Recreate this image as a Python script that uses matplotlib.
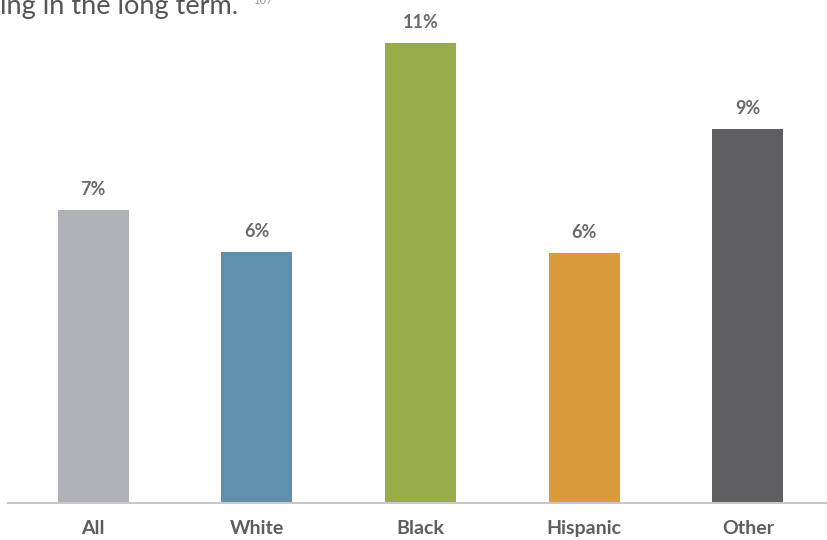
import matplotlib
matplotlib.use("Agg")
import matplotlib.pyplot as plt

categories = ["All", "White", "Black", "Hispanic", "Other"]
values = [7.0, 6.0, 11.0, 5.97, 8.95]
labels = ["7%", "6%", "11%", "6%", "9%"]
colors = ["#B1B2B6", "#5E90AE", "#98AC4C", "#DA9C3A", "#5F5F61"]

fig = plt.figure(figsize=(8.28, 5.4), dpi=100)
ax = fig.add_axes([8/828, 37/540, 820/828, 503/540])
x = list(range(len(categories)))
ax.bar(x, values, width=0.434, color=colors)
ax.set_xlim(-0.52, 4.49)
ax.set_ylim(0, 12.03)
for xi, v, lab in zip(x, values, labels):
    ax.annotate(lab, (xi, v), xytext=(0, 11), textcoords="offset points",
                ha="center", va="baseline", fontsize=13, fontweight="bold",
                color="#6A6A6A", family="Lato")
for s in ["top", "right", "left"]:
    ax.spines[s].set_visible(False)
ax.spines["bottom"].set_color("#C8C8C8")
ax.spines["bottom"].set_linewidth(1.5)
ax.set_yticks([])
ax.set_xticks(x)
ax.set_xticklabels(categories, fontsize=14, fontweight="bold", color="#5E5E5E", family="Lato")
ax.tick_params(axis="x", length=0, pad=12)

fig.text(0.0, 1.0 - 14/540, "ing in the long term.", fontsize=19.5, color="#555555",
         family="Lato", ha="left", va="baseline")
fig.text(253/828, 1.0 - 4/540, "107", fontsize=8, color="#999999",
         family="Lato", ha="left", va="baseline")

fig.savefig("out.png", dpi=100)
